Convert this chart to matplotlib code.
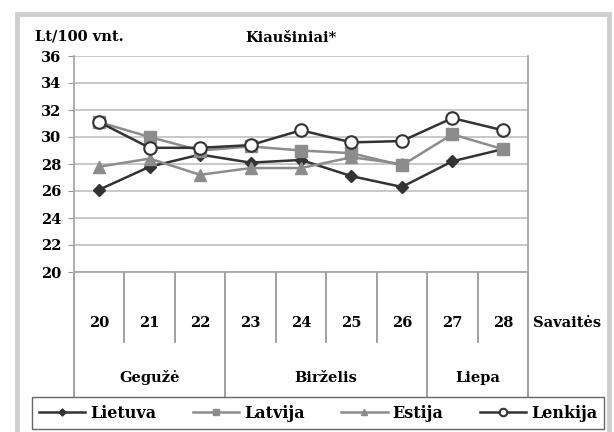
import numpy as np
import matplotlib
matplotlib.use("Agg")
import matplotlib.pyplot as plt
import matplotlib.patches as patches

plt.rcParams['font.family'] = ['DejaVu Serif']
plt.rcParams['font.weight'] = 'bold'

# Data (Lt per 100 eggs, weekly)
weeks = ["20", "21", "22", "23", "24", "25", "26", "27", "28"]
months = ["Gegužė", "Birželis", "Liepa"]
month_spans = [(0, 3), (3, 7), (7, 9)]

lietuva = [26.1, 27.8, 28.7, 28.1, 28.3, 27.1, 26.3, 28.2, 29.1]
latvija = [31.1, 30.0, 29.0, 29.3, 29.0, 28.8, 27.9, 30.2, 29.1]
estija = [27.8, 28.4, 27.2, 27.7, 27.7, 28.5, 28.0, np.nan, np.nan]
lenkija = [31.1, 29.2, 29.2, 29.4, 30.5, 29.6, 29.7, 31.4, 30.5]

W, H = 614, 432
fig = plt.figure(figsize=(W / 100, H / 100), dpi=100)

# outer gray frame
fig.patches.append(patches.Rectangle((17 / W, -0.05), 592 / W, 1.05 - 14 / H,
                                     transform=fig.transFigure, fill=False,
                                     edgecolor='#cfcfcf', linewidth=3.5))

ax = fig.add_axes([74 / W, 1 - 272 / H, 454 / W, 216 / H])
x = np.arange(len(weeks))

dark = '#333333'
gray = '#8c8c8c'
ax.plot(x, lietuva, color=dark, lw=1.8, marker='D', ms=6, mfc=dark, mec=dark, label='Lietuva', zorder=3)
ax.plot(x, latvija, color=gray, lw=1.8, marker='s', ms=8, mfc=gray, mec=gray, label='Latvija', zorder=3)
ax.plot(x, estija, color=gray, lw=1.8, marker='^', ms=8, mfc=gray, mec=gray, label='Estija', zorder=3)
ax.plot(x, lenkija, color=dark, lw=1.8, marker='o', ms=9, mfc='white', mec=dark, mew=1.5, label='Lenkija', zorder=4)

ax.set_xlim(-0.5, len(weeks) - 0.5)
ax.set_ylim(20, 36)
ax.set_yticks(range(20, 37, 2))
ax.tick_params(axis='y', labelsize=10.5, length=4, color='#999999', pad=5)
ax.set_xticks([])
ax.grid(axis='y', color='#c4c4c4', lw=1.3)
ax.set_axisbelow(True)
for s in ['left', 'bottom', 'right', 'top']:
    ax.spines[s].set_color('#a8a8a8')
    ax.spines[s].set_linewidth(1.3)
ax.spines['top'].set_visible(False)

# category axis (weeks + months)
trans = ax.get_xaxis_transform()
long_pos = {-0.5, 8.5}
for a, b in month_spans:
    long_pos.add(a - 0.5)
    long_pos.add(b - 0.5)
for i in range(len(weeks) + 1):
    p = i - 0.5
    y_end = -0.616 if p in long_pos else -0.324
    ax.plot([p, p], [0, y_end], transform=trans, color='#999999', lw=1.3, clip_on=False)
for i, w in enumerate(weeks):
    ax.text(i, -0.236, w, transform=trans, ha='center', va='center', fontsize=10.5)
for (a, b), m in zip(month_spans, months):
    ax.text((a + b - 1) / 2, -0.49, m, transform=trans, ha='center', va='center', fontsize=10.5)
ax.text(1.012, -0.236, "Savaitės", transform=ax.transAxes, ha='left', va='center', fontsize=10.5)

fig.text(35 / W, 1 - 37 / H, "Lt/100 vnt.", ha='left', va='center', fontsize=10.5)
fig.text(291 / W, 1 - 38 / H, "Kiaušiniai*", ha='center', va='center', fontsize=10.5)

leg = fig.legend(loc='center', ncol=4, fancybox=False, edgecolor='#666666', framealpha=1,
                 fontsize=11.5, handlelength=2.9, markerscale=0.6, borderaxespad=0,
                 handletextpad=0.3, columnspacing=2.3, borderpad=0.45)
leg.set_bbox_to_anchor((318 / W, 1 - 413 / H), transform=fig.transFigure)

fig.savefig("out.png", dpi=100)
